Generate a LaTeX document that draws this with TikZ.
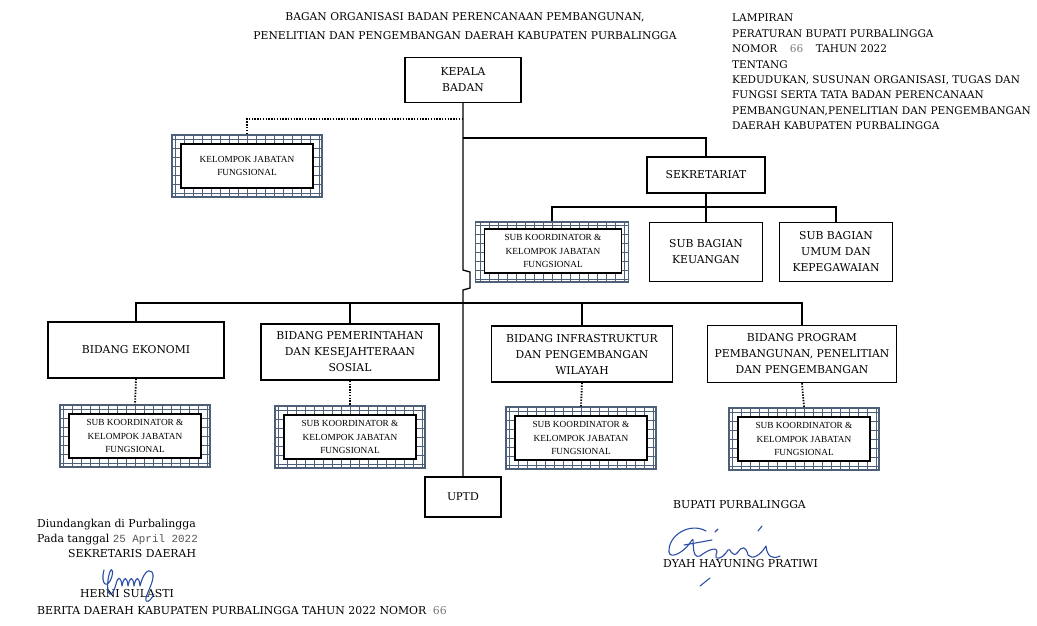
\documentclass[tikz,border=0pt]{standalone}
\usepackage{fontspec}
\setmainfont{DejaVu Serif}
\newfontfamily\timesfont{Liberation Serif}
\setmonofont{Liberation Mono}
\usepackage{xcolor}
\usetikzlibrary{positioning,calc}
\definecolor{gridblue}{HTML}{4E5F78}
\definecolor{inkblue}{HTML}{2B4DA6}
\definecolor{stampgray}{HTML}{7A7A7A}

\begin{document}
\begin{tikzpicture}[x=1pt,y=-1pt,
  unit/.style={draw,line width=1.4pt,align=center,inner sep=2pt,font=\fontsize{10.8}{16}\selectfont},
  hatchframe/.style={draw=gridblue,line width=1.4pt,minimum width=150pt,minimum height=62pt,
    path picture={\draw[gridblue,line width=0.9pt,step=9pt] (path picture bounding box.south west) grid (path picture bounding box.north east);}},
  hatchtext/.style={draw,line width=1.3pt,fill=white,align=center,minimum width=132pt,minimum height=44pt,
    inner sep=1pt,font=\timesfont\fontsize{9.3}{13.5}\selectfont},
  link/.style={line width=1.3pt},
  dots/.style={line width=1.8pt,dash pattern=on 1.4pt off 1.4pt},
  plain/.style={font=\fontsize{10.9}{15.4}\selectfont,align=left,inner sep=0pt},
  ink/.style={inkblue,line width=1.1pt,line cap=round,line join=round}]
\useasboundingbox (0,0) rectangle (1037,625);

% heading and lampiran
\node[plain,align=center,font=\fontsize{10.75}{19}\selectfont] (title) at (465,26) {BAGAN ORGANISASI BADAN PERENCANAAN PEMBANGUNAN,\\PENELITIAN DAN PENGEMBANGAN DAERAH KABUPATEN PURBALINGGA};
\node[plain,anchor=north west,font=\fontsize{10.5}{15.4}\selectfont] (lampiran) at (732,14) {LAMPIRAN\\PERATURAN BUPATI PURBALINGGA\\NOMOR\hspace{1.2em}{\color{stampgray}66}\hspace{1.2em}TAHUN 2022\\TENTANG\\KEDUDUKAN, SUSUNAN ORGANISASI, TUGAS DAN\\FUNGSI SERTA TATA BADAN PERENCANAAN\\PEMBANGUNAN,PENELITIAN DAN PENGEMBANGAN\\DAERAH KABUPATEN PURBALINGGA};

% top of the chart
\node[unit,minimum width=116pt,minimum height=45pt] (kepala) at (463,80) {KEPALA\\BADAN};
\node[hatchframe] (kjfo) at (247,166) {};
\node[hatchtext] (kjf) at (247,166) {KELOMPOK JABATAN\\FUNGSIONAL};
\node[unit,minimum width=118pt,minimum height=36pt] (sek) at (706,175) {SEKRETARIAT};
\node[hatchframe,minimum width=153pt,minimum height=60pt] (sekjfo) at (552,252) {};
\node[hatchtext,minimum width=137pt,minimum height=44pt] (sekjf) at (553,251) {SUB KOORDINATOR \&\\KELOMPOK JABATAN\\FUNGSIONAL};
\node[unit,minimum width=113pt,minimum height=59pt] (keu) at (706,252) {SUB BAGIAN\\KEUANGAN};
\node[unit,minimum width=113pt,minimum height=59pt] (umum) at (836,252) {SUB BAGIAN\\UMUM DAN\\KEPEGAWAIAN};

\coordinate (kjfjoin) at (463,119);
\coordinate (sekjoin) at (463,138);
\coordinate (sekbus) at (706,207);
\draw[dots] (kjfjoin) -| (kjfo.north);
\draw[link] (sekjoin) -| (sek.north);
\draw[link] (sek.south) -- (sekbus);
\draw[link] (sekjfo.north) |- (sekbus) -| (umum.north);
\draw[link] (sekbus) -- (keu.north);

% bidang
\node[unit,minimum width=176pt,minimum height=56pt] (eko) at (136,350) {BIDANG EKONOMI};
\node[unit,minimum width=178pt,minimum height=56pt] (pem) at (350,352) {BIDANG PEMERINTAHAN\\DAN KESEJAHTERAAN\\SOSIAL};
\node[unit,minimum width=181pt,minimum height=56pt] (infra) at (582,354) {BIDANG INFRASTRUKTUR\\DAN PENGEMBANGAN\\WILAYAH};
\node[unit,minimum width=189pt,minimum height=57pt] (prog) at (802,354) {BIDANG PROGRAM\\PEMBANGUNAN, PENELITIAN\\DAN PENGEMBANGAN};

\coordinate (bus) at (463,303);
\draw[link] (eko.north) |- (bus) -| (prog.north);
\draw[link] (pem.north) -- (pem.north |- bus);
\draw[link] (infra.north) -- (infra.north |- bus);

\foreach \bid/\x/\y in {eko/135/436,pem/350/437,infra/581/438,prog/804/439}{
  \node[hatchframe] (\bid jfo) at (\x,\y) {};
  \node[hatchtext] (\bid jf) at (\x,\y) {SUB KOORDINATOR \&\\KELOMPOK JABATAN\\FUNGSIONAL};
  \draw[dots] (\bid.south) -- (\bid jfo.north);
}

\node[unit,minimum width=76pt,minimum height=40pt,font=\timesfont\fontsize{12}{14}\selectfont] (uptd) at (463,497) {UPTD};
\draw[link] (kepala.south) -- (463,270) -- (470,272) -- (470,288) -- (463,290) -- (uptd.north);

% pengundangan
\node[plain,anchor=base west,font=\fontsize{10.9}{14.5}\selectfont] (undang) at (37,542) {Diundangkan di Purbalingga\\Pada tanggal {\ttfamily\color{stampgray!70!black}25 April 2022}};
\node[plain,anchor=base west] (sekda) at (68,557) {SEKRETARIS DAERAH};
\node[plain,anchor=base west] (herni) at (80,597) {HERNI SULASTI};
\node[plain,anchor=base west] (berita) at (37,614) {BERITA DAERAH KABUPATEN PURBALINGGA TAHUN 2022 NOMOR\hspace{0.6em}{\color{stampgray}66}};
\draw[ink] (104,570) .. controls (100,585) and (108,590) .. (112,576) .. controls (114,568) and (110,566) .. (108,580)
  .. controls (106,596) and (112,600) .. (116,584) .. controls (118,576) and (121,576) .. (122,586)
  .. controls (124,576) and (127,576) .. (128,586) .. controls (130,576) and (133,576) .. (134,586)
  .. controls (136,576) and (139,576) .. (140,586) .. controls (143,574) and (148,568) .. (152,572)
  .. controls (156,578) and (148,590) .. (146,598) .. controls (145,604) and (150,602) .. (154,594);

% penandatangan
\node[plain,anchor=base west] (bupati) at (673,508) {BUPATI PURBALINGGA};
\node[plain,anchor=base west] (dyah) at (663,567) {DYAH HAYUNING PRATIWI};
\draw[ink] (706,531) .. controls (690,522) and (668,535) .. (669,552) .. controls (670,560) and (685,552) .. (692,540)
  .. controls (695,535) and (690,560) .. (700,556) .. controls (710,548) and (720,546) .. (716,555)
  .. controls (714,560) and (722,560) .. (728,550) .. controls (730,546) and (732,560) .. (738,552)
  .. controls (742,546) and (746,546) .. (748,555) .. controls (752,560) and (760,556) .. (766,546)
  .. controls (767,556) and (772,560) .. (780,556);
\draw[ink] (684,545) -- (712,540);
\draw[ink] (715,532) -- (718,529);
\draw[ink] (758,531) -- (762,526);
\draw[ink] (700,586) -- (710,578);
\end{tikzpicture}
\end{document}
